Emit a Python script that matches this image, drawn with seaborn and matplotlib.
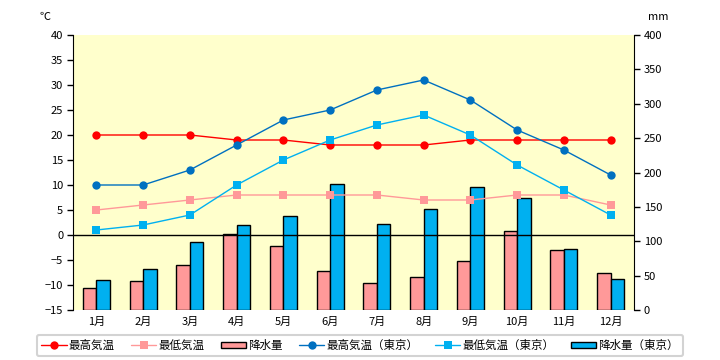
import matplotlib
matplotlib.use("Agg")
import matplotlib.pyplot as plt
import numpy as np
import pandas as pd
import seaborn as sns
from matplotlib.lines import Line2D
from matplotlib.patches import Patch

months = [f"{i}月" for i in range(1, 13)]
max_temp = [20, 20, 20, 19, 19, 18, 18, 18, 19, 19, 19, 19]
min_temp = [5, 6, 7, 8, 8, 8, 8, 7, 7, 8, 8, 6]
precip = [31.5, 42, 65, 110.5, 92.5, 56.5, 40, 47.5, 72, 114.5, 87, 53.5]
max_temp_tokyo = [10, 10, 13, 18, 23, 25, 29, 31, 27, 21, 17, 12]
min_temp_tokyo = [1, 2, 4, 10, 15, 19, 22, 24, 20, 14, 9, 4]
precip_tokyo = [43.5, 59, 99, 123.5, 136.5, 184, 124.5, 146.5, 178.5, 162.5, 88.5, 45]

temp_series = ["最高気温", "最低気温", "最高気温（東京）", "最低気温（東京）"]
precip_series = ["降水量", "降水量（東京）"]

c_red, c_pink, c_dblue, c_lblue = "#FF0000", "#FF9999", "#0070C0", "#00B0F0"

sns.set_style("white")
plt.rcParams['font.family'] = ['Noto Sans CJK JP', 'DejaVu Sans']
plt.rcParams.update({"text.color": "black", "xtick.color": "black",
                     "ytick.color": "black", "axes.labelcolor": "black"})

fig = plt.figure(figsize=(7.2, 3.6), dpi=100)
ax = fig.add_axes([73 / 720, 50 / 360, 561 / 720, 275 / 360])
ax.set_facecolor("#FFFFCC")

precip_df = pd.DataFrame({
    "month": months * 2,
    "value": precip + precip_tokyo,
    "series": [precip_series[0]] * 12 + [precip_series[1]] * 12,
})
sns.barplot(data=precip_df, x="month", y="value", hue="series",
            palette=[c_pink, c_lblue], width=0.58, saturation=1,
            edgecolor="black", linewidth=1, ax=ax, legend=False)
ax.set_ylim(0, 400)
ax.set_yticks(np.arange(0, 401, 50))
ax.yaxis.tick_right()
ax.set_xlabel("")
ax.set_ylabel("")

ax2 = ax.twinx()
temp_df = pd.DataFrame({
    "month": months * 4,
    "value": max_temp + min_temp + max_temp_tokyo + min_temp_tokyo,
    "series": sum([[s] * 12 for s in temp_series], []),
})
ax2.axhline(0, color="black", lw=1, zorder=1)
sns.lineplot(data=temp_df, x="month", y="value", hue="series", style="series",
             palette=[c_red, c_pink, c_dblue, c_lblue],
             markers=["o", "s", "o", "s"], dashes=False, sort=False,
             markersize=6, markeredgewidth=0, linewidth=1, ax=ax2, legend=False, zorder=3)
ax2.set_ylim(-15, 40)
ax2.set_yticks(np.arange(-15, 41, 5))
ax2.yaxis.tick_left()
ax2.set_ylabel("")
ax2.set_xlabel("")
ax.set_xlim(-0.5, 11.5)

for s in ["top", "bottom", "left"]:
    ax.spines[s].set_visible(False)
ax.spines["right"].set_color("black")
for s in ["top", "bottom", "right"]:
    ax2.spines[s].set_visible(False)
ax2.spines["left"].set_color("black")

ax.tick_params(axis="y", right=True, left=False, labelright=True, labelleft=False,
               direction="out", length=4, width=1, color="black", labelcolor="black",
               labelsize=8, pad=3)
ax2.tick_params(axis="y", left=True, right=False, labelleft=True, labelright=False,
                direction="out", length=4, width=1, color="black", labelcolor="black",
                labelsize=8, pad=3)
ax.tick_params(axis="x", bottom=False, length=0, labelsize=8, labelcolor="black", pad=5)

fig.text(40 / 720, 1 - 17 / 360, "℃", fontsize=8, va="center", ha="left", color="black")
fig.text(648 / 720, 1 - 17 / 360, "mm", fontsize=8, va="center", ha="left", color="black")

handles = [
    Line2D([], [], color=c_red, marker="o", markersize=6, markeredgewidth=0, lw=1),
    Line2D([], [], color=c_pink, marker="s", markersize=6, markeredgewidth=0, lw=1),
    Patch(facecolor=c_pink, edgecolor="black", linewidth=1),
    Line2D([], [], color=c_dblue, marker="o", markersize=6, markeredgewidth=0, lw=1),
    Line2D([], [], color=c_lblue, marker="s", markersize=6, markeredgewidth=0, lw=1),
    Patch(facecolor=c_lblue, edgecolor="black", linewidth=1),
]
labels = ["最高気温", "最低気温", "降水量", "最高気温（東京）", "最低気温（東京）", "降水量（東京）"]
leg = fig.legend(handles, labels, loc="center", bbox_to_anchor=(0.5, 1 - 345.5 / 360),
                 ncol=6, fontsize=8.3, frameon=True, fancybox=True, edgecolor="#C8C8C8",
                 handlelength=2.2, handleheight=0.5, handletextpad=0.2, columnspacing=1.4,
                 borderpad=0.35, labelcolor="black")
leg.get_frame().set_linewidth(1.5)

fig.savefig("out.png", dpi=100)
